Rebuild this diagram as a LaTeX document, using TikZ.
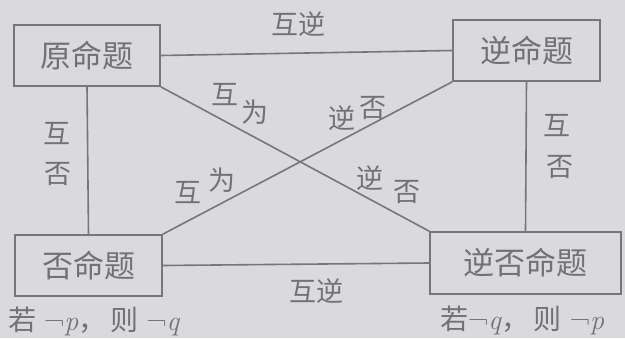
\documentclass[tikz,border=0pt]{standalone}
\usepackage{fontspec}
\newfontfamily\cjk{Noto Sans CJK SC}
\definecolor{bg}{HTML}{DADADC}
\definecolor{ln}{HTML}{76767C}
\definecolor{tx}{HTML}{727274}
\tikzset{
  box/.style={draw=ln, line width=1.7pt, rectangle, inner sep=0pt, font=\cjk\fontsize{31}{33}\selectfont, text=tx},
  conn/.style={draw=ln, line width=1.6pt},
  lab/.style={inner sep=0pt, font=\cjk\fontsize{27}{29}\selectfont, text=tx},
  cond/.style={inner sep=0pt, anchor=west, font=\fontsize{28}{30}\selectfont, text=tx}
}
\begin{document}
\begin{tikzpicture}[x=1pt,y=-1pt]
\fill[bg] (0,0) rectangle (625,338);
\useasboundingbox (0,0) rectangle (625,338);
\node[box, minimum width=146pt, minimum height=61pt] (yuan) at (87,55.5) {原命题};
\node[box, minimum width=147pt, minimum height=61pt] (ni) at (526.5,50.5) {逆命题};
\node[box, minimum width=147pt, minimum height=61pt] (fou) at (88.5,265.5) {否命题};
\node[box, minimum width=191pt, minimum height=62pt] (nifou) at (525.5,263) {逆否命题};
\draw[conn] (yuan.east) -- (ni.west);
\draw[conn] (fou.east) -- (nifou.west);
\draw[conn] (yuan.south) -- (fou.north);
\draw[conn] (ni.south) -- (nifou.north);
\draw[conn] (yuan.south east) -- (nifou.north west);
\draw[conn] (fou.north east) -- (ni.south west);
\node[lab] (t1) at (298,24) {互逆};
\node[lab] (b1) at (316,291) {互逆};
\node[lab] (l1) at (57,134) {互};
\node[lab] (l2) at (58,174) {否};
\node[lab] (r1) at (557,126) {互};
\node[lab] (r2) at (560,167) {否};
\node[lab] (a1) at (225,95) {互};
\node[lab] (a2) at (255,112) {为};
\node[lab] (c1) at (342,118) {逆};
\node[lab] (c2) at (373,108) {否};
\node[lab] (d1) at (188,193) {互};
\node[lab] (d2) at (222,180) {为};
\node[lab] (e1) at (370,178) {逆};
\node[lab] (e2) at (407,192) {否};
\node[cond] (p1) at (8,321) {{\cjk 若}\hspace{8pt}¬\textit{p}{\cjk ，}\hspace{4pt}{\cjk 则}\hspace{8pt}¬\textit{q}};
\node[cond] (p2) at (440,320) {{\cjk 若}¬\textit{q}{\cjk ，}\hspace{4pt}{\cjk 则}\hspace{8pt}¬\textit{p}};
\end{tikzpicture}
\end{document}
